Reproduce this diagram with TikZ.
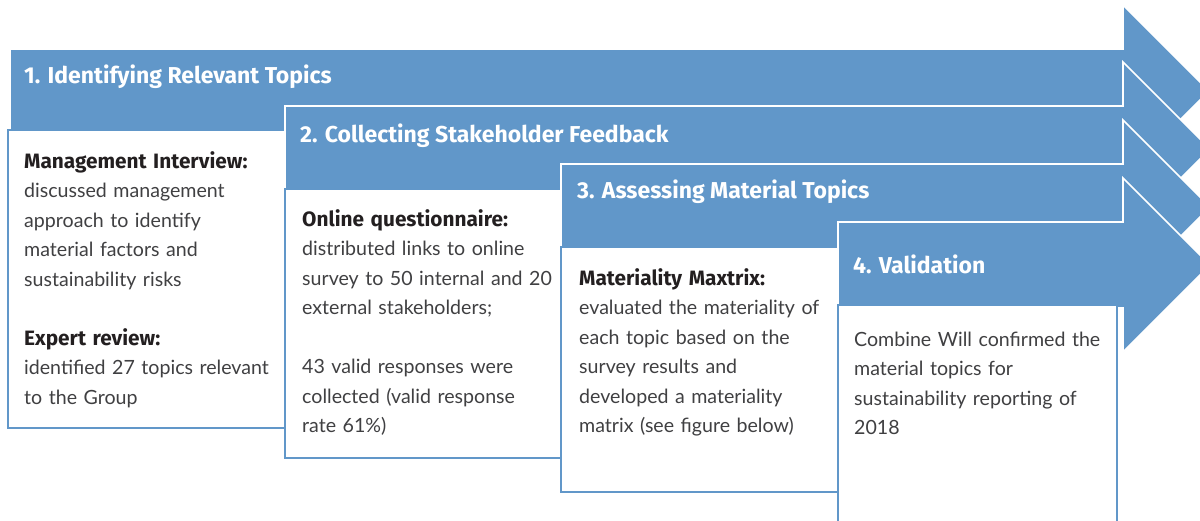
\documentclass[tikz,border=0pt]{standalone}
\usepackage{fontspec}
\setmainfont{Lato}
\newfontfamily\headfont{Fira Sans}
\definecolor{stepblue}{RGB}{97,151,201}
\definecolor{bodygray}{RGB}{64,64,66}
\definecolor{leadblack}{RGB}{35,31,32}

\tikzset{
  stagearrow/.style={fill=stepblue, draw=white, line width=1.6pt, line join=miter},
  notebox/.style={fill=white, draw=stepblue, line width=2pt},
  stagetitle/.style={anchor=base west, inner sep=0pt, text=white,
    font=\headfont\fontsize{23}{27}\bfseries\selectfont},
  notetext/.style={anchor=base west, inner sep=0pt, align=left, text width=268pt,
    text=bodygray, font=\fontsize{19.6}{29.5}\selectfont},
}
% lead-in phrase of a note
\newcommand{\lead}[1]{\textcolor{leadblack}{\headfont\fontsize{20.8}{29.5}\bfseries\selectfont #1}}
% a stage arrow: #1 left edge, #2 top of shaft, #3 bottom of shaft
\newcommand{\stageshape}[3]{%
  \filldraw[stagearrow] (#1,#2) -- (1123,#2) -- (1123,#2-44)
    -- ({1123+(#3-#2)/2+44},{(#2+#3)/2}) -- (1123,#3+44) -- (1123,#3)
    -- (#1,#3) -- cycle;}

\begin{document}
\begin{tikzpicture}[x=1pt,y=-1pt]
\useasboundingbox (0,0) rectangle (1200,520);
\clip (0,0) rectangle (1200,520);

% stage 1
\stageshape{10}{49}{133}
\draw[notebox] (8,130) rectangle (285,428);
% stage 2
\stageshape{285}{106}{192}
\draw[notebox] (285,189) rectangle (561,458);
% stage 3
\stageshape{561}{164}{250}
\draw[notebox] (561,247) rectangle (838,492);
% stage 4
\stageshape{838}{222}{308}
\draw[notebox] (838,305) rectangle (1117,530);

% stage titles
\node[stagetitle] (s1) at (24,83)  {1. Identifying Relevant Topics};
\node[stagetitle] (s2) at (300,142) {2. Collecting Stakeholder Feedback};
\node[stagetitle] (s3) at (577,198) {3. Assessing Material Topics};
\node[stagetitle] (s4) at (853,273) {4. Validation};

% notes under each stage
\node[notetext] (n1) at (24,168) {\lead{Management Interview:}\\
  discussed management\\
  approach to identify\\
  material factors and\\
  sustainability risks\\[29.5pt]
  \lead{Expert review:}\\
  identified 27 topics relevant\\
  to the Group};
\node[notetext] (n2) at (302,226) {\lead{Online questionnaire:}\\
  distributed links to online\\
  survey to 50 internal and 20\\
  external stakeholders;\\[29.5pt]
  43 valid responses were\\
  collected (valid response\\
  rate 61\%)};
\node[notetext] (n3) at (579,285) {\lead{Materiality Maxtrix:}\\
  evaluated the materiality of\\
  each topic based on the\\
  survey results and\\
  developed a materiality\\
  matrix (see figure below)};
\node[notetext] (n4) at (854,346) {Combine Will confirmed the\\
  material topics for\\
  sustainability reporting of\\
  2018};
\end{tikzpicture}
\end{document}
